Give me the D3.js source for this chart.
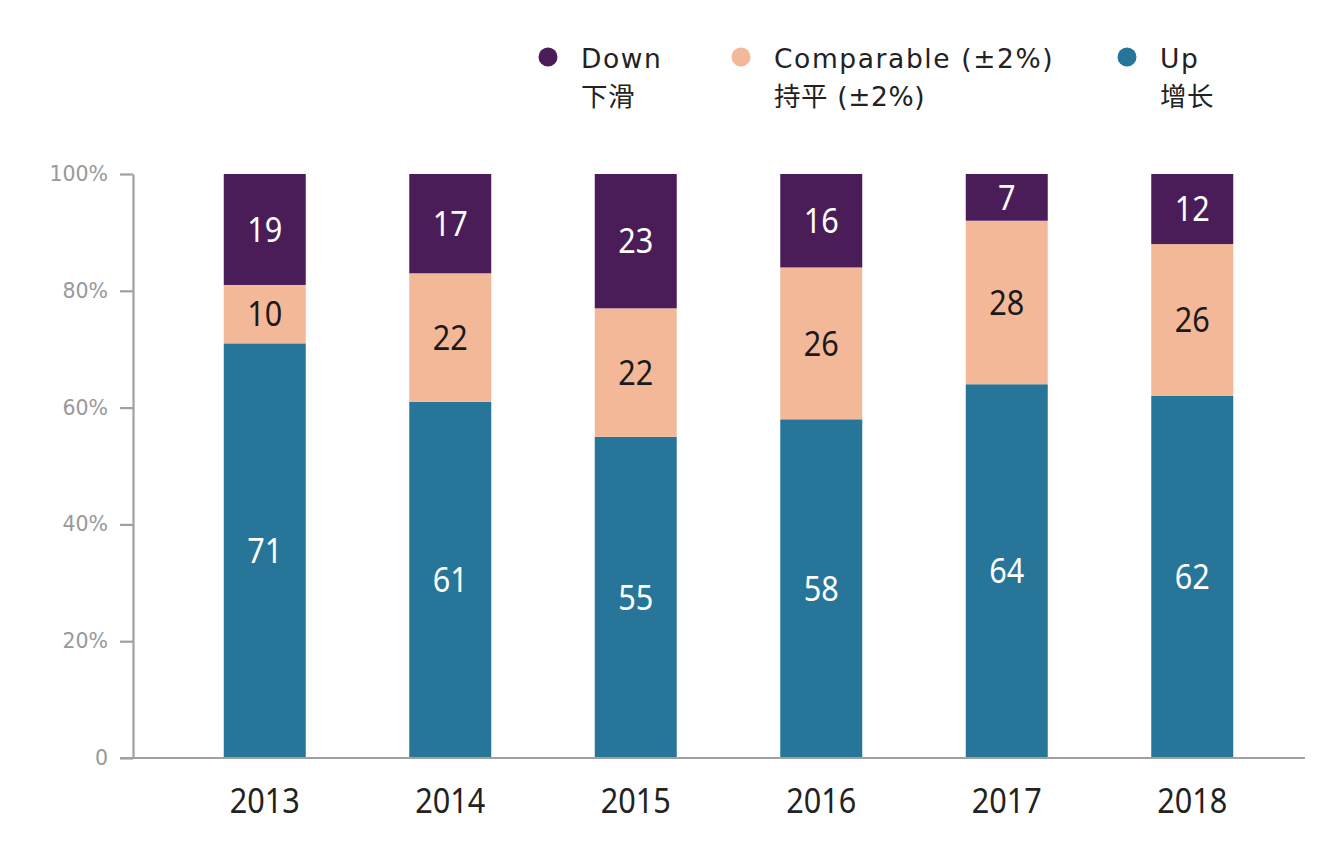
<!DOCTYPE html>
<html><head><meta charset="utf-8">
<script src="https://cdn.jsdelivr.net/npm/d3@7/dist/d3.min.js"></script>
<style>body{margin:0;background:#fff}</style>
</head><body>
<svg id="c" width="1342" height="846"></svg>
<script>
const years = ["2013","2014","2015","2016","2017","2018"];
const down = [19,17,23,16,7,12];
const comparable = [10,22,22,26,28,26];
const up = [71,61,55,58,64,62];
const yTicks = [0,20,40,60,80,100];
const yTickLabels = ["0","20%","40%","60%","80%","100%"];
const seriesKeys = ["up","comparable","down"];
const legendEn = {down:"Down", comparable:"Comparable (±2%)", up:"Up"};
const legendZh = {down:"下滑", comparable:"持平 (±2%)", up:"增长"};
const colors = {down:"#4b1d58", comparable:"#f3b898", up:"#277699"};
const labelColors = {down:"#fff", comparable:"#1a1a1a", up:"#fff"};

const table = years.map((y,i)=>({year:y, up:up[i], comparable:comparable[i], down:down[i]}));
const svg = d3.select("#c");
const x = d3.scaleBand().domain(years).range([172,1285]).paddingInner(0.558).paddingOuter(0.279);
const y = d3.scaleLinear().domain([0,100]).range([758,174]);

const layers = d3.stack().keys(seriesKeys)(table);
// the top segment ("Down") fills the remainder of the 100% bar
const topKey = seriesKeys[seriesKeys.length-1];
layers.forEach(l=>{ if(l.key===topKey) l.forEach(d=>{ d[1] = 100; }); });

const numFont = "'Noto Sans', sans-serif";
const numSize = 35, numSX = 0.875;

// y axis
const ya = svg.append("g").attr("transform","translate(133,0)")
  .call(d3.axisLeft(y).tickValues(yTicks).tickFormat((d,i)=>yTickLabels[i]).tickSize(13).tickSizeOuter(0));
ya.select(".domain").attr("stroke","#a0a0a0").attr("stroke-width",2.2);
ya.selectAll(".tick line").attr("stroke","#a0a0a0").attr("stroke-width",2.2);
ya.selectAll(".tick text").attr("fill","#999").attr("font-family","'DejaVu Sans', Verdana, sans-serif").attr("font-size",20.5).attr("x",-25);

// bars
layers.forEach(layer=>{
  const k = layer.key;
  svg.append("g").selectAll("rect").data(layer).join("rect")
    .attr("x",d=>x(d.data.year)).attr("width",x.bandwidth())
    .attr("y",d=>y(d[1])).attr("height",d=>y(d[0])-y(d[1]))
    .attr("fill",colors[k]);
  svg.append("g").selectAll("text").data(layer).join("text")
    .attr("transform",d=>`translate(${x(d.data.year)+x.bandwidth()/2},${(y(d[0])+y(d[1]))/2}) scale(${numSX},1)`)
    .attr("dy","0.35em").attr("text-anchor","middle")
    .attr("font-family",numFont).attr("font-size",numSize)
    .attr("fill",labelColors[k])
    .text(d=>d.data[k]);
});

// x axis
svg.append("line").attr("x1",120).attr("x2",1305).attr("y1",758).attr("y2",758).attr("stroke","#a0a0a0").attr("stroke-width",2.2);
svg.append("g").selectAll("text").data(years).join("text")
  .attr("transform",d=>`translate(${x(d)+x.bandwidth()/2},813) scale(${numSX},1)`)
  .attr("text-anchor","middle")
  .attr("font-family",numFont).attr("font-size",numSize).attr("fill","#222")
  .text(d=>d);

// legend
const legendOrder = ["down","comparable","up"];
const legendX = [548,741,1127];
const lg = svg.append("g");
legendOrder.forEach((k,i)=>{
  const g = lg.append("g").attr("transform",`translate(${legendX[i]},0)`);
  g.append("circle").attr("cx",0).attr("cy",57).attr("r",9.5).attr("fill",colors[k]);
  g.append("text").attr("x",33).attr("y",68).attr("font-family","'DejaVu Sans', sans-serif").attr("font-size",26.5).attr("letter-spacing",1.6).attr("fill","#222").text(legendEn[k]);
  g.append("text").attr("x",33).attr("y",106).attr("font-family","'DejaVu Sans','Noto Sans CJK SC', sans-serif").attr("font-size",26.5).attr("letter-spacing",0.6).attr("fill","#222").text(legendZh[k]);
});
</script>
</body></html>
